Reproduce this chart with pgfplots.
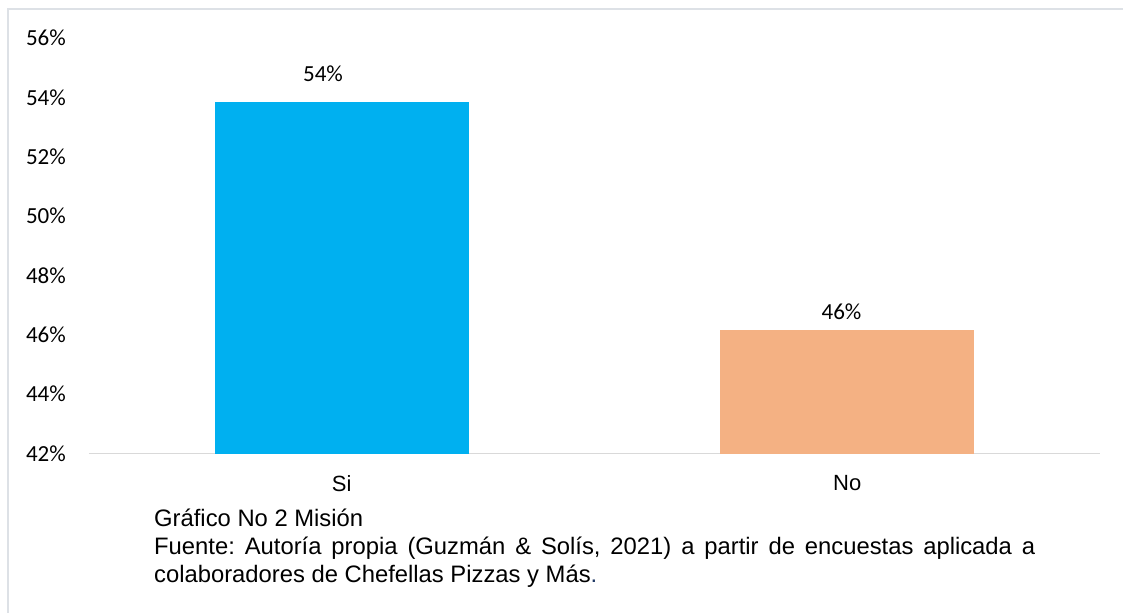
\documentclass[border=0pt]{standalone}
\usepackage{pgfplots}
\pgfplotsset{compat=1.18}
\usepackage{fontspec}
\setmainfont{Liberation Sans}
\newfontfamily\calibri{Carlito}
\definecolor{barSi}{HTML}{00B0F0}
\definecolor{barNo}{HTML}{F4B183}
\definecolor{axisGray}{HTML}{D9D9D9}
\definecolor{frameGray}{HTML}{DDE1E6}
\definecolor{dotBlue}{HTML}{1F3864}
\begin{document}
\frenchspacing
\begin{tikzpicture}
\begin{axis}[
  scale only axis, width=1011pt, height=415.5pt,
  xmin=-0.5, xmax=1.5, ymin=42, ymax=56,
  xtick={0,1}, xticklabels={Si,No},
  ytick={42,44,...,56},
  yticklabel={\pgfmathprintnumber{\tick}\%},
  /pgf/number format/assume math mode=true,
  axis x line*=bottom, axis y line*=left, separate axis lines,
  x axis line style={draw=axisGray, line width=1.7pt, -},
  y axis line style={draw=none},
  major tick length=0pt,
  xtick style={draw=none}, ytick style={draw=none},
  yticklabel style={font=\calibri\fontsize{23}{27}\selectfont, inner sep=0pt, anchor=east, xshift=-23pt},
  xticklabel style={font=\fontsize{22}{26}\selectfont, inner sep=0pt, anchor=north, yshift=-21.5pt},
  ybar, bar width=254pt,
  nodes near coords={\pgfmathprintnumber[fixed,precision=0]{\pgfplotspointmeta}\%},
  every node near coord/.append style={font=\calibri\fontsize{23}{27}\selectfont, inner sep=0pt, anchor=south, text=black},
  clip=false,
]
\addplot[fill=barSi, draw=none, bar shift=0pt, every node near coord/.append style={xshift=-18.75pt, yshift=20pt}] coordinates {(0,53.85)};
\addplot[fill=barNo, draw=none, bar shift=0pt, every node near coord/.append style={xshift=-5.75pt, yshift=10pt}] coordinates {(1,46.15)};
\end{axis}
\begin{scope}[shift={(-89pt,-159.5pt)}, x=1pt, y=1pt]
\path[use as bounding box] (0,0) rectangle (1123,613);
\draw[frameGray, line width=2pt] (8.5,0) -- (8.5,604.2) -- (1123,604.2);
\node[anchor=base west, inner sep=0pt] at (154,87) {\parbox[t]{881pt}{\fontsize{23.8}{28.3}\selectfont\parindent=0pt
Gráfico No 2 Misión\par
Fuente: Autoría propia (Guzmán \& Solís, 2021) a partir de encuestas aplicada a\linebreak
colaboradores de Chefellas Pizzas y Más{\color{dotBlue}.}}};
\end{scope}
\end{tikzpicture}
\end{document}
